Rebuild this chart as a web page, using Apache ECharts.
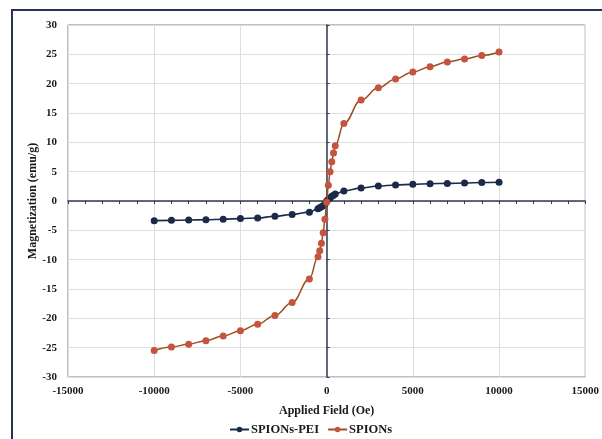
<!DOCTYPE html>
<html>
<head>
<meta charset="utf-8">
<script src="https://cdn.jsdelivr.net/npm/echarts@6/dist/echarts.min.js"></script>
<style>
    html, body { margin: 0; padding: 0; background: #fff; }
    #wrap { position: relative; width: 602px; height: 439px; overflow: hidden; }
    #frame { position: absolute; left: 11px; top: 9px; width: 620px; height: 460px;
             border-left: 2px solid #243352; border-top: 2px solid #243352; }
    #content { position: absolute; left: 0; top: 0; width: 602px; height: 439px; }
</style>
</head>
<body>
<div id="wrap">
    <div id="frame"></div>
    <div id="content"></div>
</div>
<script>
!(function(window) {
    // applied field (Oe)
    var field = [-10000, -9000, -8000, -7000, -6000, -5000, -4000, -3000, -2000, -1000,
        -500, -400, -300, -200, -100, 0, 100, 200, 300, 400, 500,
        1000, 2000, 3000, 4000, 5000, 6000, 7000, 8000, 9000, 10000];

    // magnetization (emu/g)
    var spions = [-25.5, -24.9, -24.4, -23.8, -23.0, -22.1, -21.0, -19.5, -17.3, -13.3,
        -9.5, -8.5, -7.2, -5.4, -3.1, -0.2, 2.7, 5.0, 6.7, 8.2, 9.4,
        13.2, 17.2, 19.3, 20.8, 22.0, 22.9, 23.7, 24.2, 24.8, 25.4];

    var spionsPei = [-3.35, -3.3, -3.25, -3.2, -3.1, -3.0, -2.9, -2.6, -2.3, -1.9,
        -1.3, -1.15, -1.0, -0.8, -0.5, 0, 0.3, 0.5, 0.8, 1.0, 1.2,
        1.7, 2.2, 2.55, 2.73, 2.84, 2.95, 3.0, 3.07, 3.15, 3.2];

    var font = 'Liberation Serif';

    function pairs(ys) {
        var out = [];
        for (var i = 0; i < field.length; i++) {
            out.push([field[i], ys[i]]);
        }
        return out;
    }

    var myChart = echarts.init(document.getElementById('content'));

    var option = {
        animation: false,
        grid: {
            left: 68,
            right: 15,
            top: 25,
            bottom: 62,
            containLabel: false,
            show: true,
            borderColor: '#808080',
            borderWidth: 1
        },
        legend: {
            bottom: 3,
            left: 229,
            padding: 0,
            itemWidth: 19,
            itemHeight: 7,
            itemGap: 8,
            textStyle: { fontFamily: font, fontWeight: 'bold', fontSize: 12.5, color: '#1a1a1a', padding: [0, 0, 0, -3] },
            data: ['SPIONs-PEI', 'SPIONs']
        },
        xAxis: [{
            type: 'value',
            min: -15000,
            max: 15000,
            interval: 5000,
            name: 'Applied Field (Oe)',
            nameLocation: 'middle',
            nameGap: 28,
            nameTextStyle: { fontFamily: font, fontWeight: 'bold', fontSize: 12, color: '#1a1a1a' },
            axisLine: { show: false, onZero: false },
            axisTick: { show: false },
            axisLabel: {
                fontFamily: font, fontWeight: 'bold', fontSize: 11, color: '#1a1a1a', margin: 9,
                formatter: function(v) { return String(v); }
            },
            splitLine: { lineStyle: { color: '#dedede' } }
        }, {
            type: 'value',
            min: -15000,
            max: 15000,
            interval: 1000,
            position: 'bottom',
            axisLine: { show: true, onZero: true, onZeroAxisIndex: 0, lineStyle: { color: '#2f3b52', width: 1.5 } },
            axisTick: { show: true, length: 3, lineStyle: { color: '#2f3b52' } },
            axisLabel: { show: false },
            splitLine: { show: false }
        }],
        yAxis: [{
            type: 'value',
            min: -30,
            max: 30,
            interval: 5,
            name: 'Magnetization (emu/g)',
            nameLocation: 'middle',
            nameGap: 29,
            nameMoveOverlap: false,
            nameTextStyle: { fontFamily: font, fontWeight: 'bold', fontSize: 12, color: '#1a1a1a' },
            axisLine: { show: false, onZero: false },
            axisTick: { show: false },
            axisLabel: { fontFamily: font, fontWeight: 'bold', fontSize: 11, color: '#1a1a1a', margin: 11 },
            splitLine: { lineStyle: { color: '#dedede' } }
        }, {
            type: 'value',
            min: -30,
            max: 30,
            interval: 5,
            position: 'left',
            axisLine: { show: true, onZero: true, onZeroAxisIndex: 0, lineStyle: { color: '#2f3b52', width: 1.5 } },
            axisTick: { show: true, inside: true, length: 3, lineStyle: { color: '#2f3b52' } },
            axisLabel: { show: false },
            splitLine: { show: false }
        }],
        series: [{
            name: 'SPIONs-PEI',
            type: 'line',
            xAxisIndex: 0,
            yAxisIndex: 0,
            smooth: 0.4,
            smoothMonotone: 'x',
            symbol: 'circle',
            symbolSize: 7,
            itemStyle: { color: '#1b2a47' },
            lineStyle: { color: '#1b2a47', width: 1.6 },
            data: pairs(spionsPei),
            z: 3
        }, {
            name: 'SPIONs',
            type: 'line',
            xAxisIndex: 0,
            yAxisIndex: 0,
            smooth: 0.4,
            smoothMonotone: 'x',
            symbol: 'circle',
            symbolSize: 7,
            itemStyle: { color: '#c5533f' },
            lineStyle: { color: '#9a4f1e', width: 1.5 },
            data: pairs(spions),
            z: 4
        }]
    };
    myChart.setOption(option);
})(window);
</script>
</body>
</html>
